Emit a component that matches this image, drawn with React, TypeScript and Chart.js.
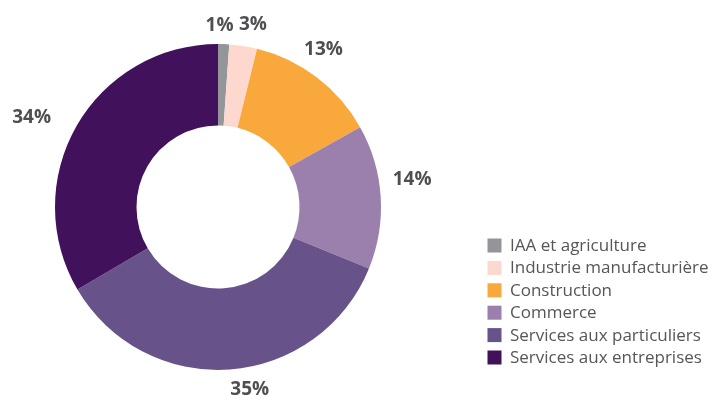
import React, { useEffect, useRef } from "react";
import { Chart, registerables } from "chart.js";

Chart.register(...registerables);

// ---- data ----
const categories = [
  "IAA et agriculture",
  "Industrie manufacturière",
  "Construction",
  "Commerce",
  "Services aux particuliers",
  "Services aux entreprises",
];
const shares = [1.1, 2.75, 13, 14.3, 35.4, 33.45];
const shareLabels = ["1%", "3%", "13%", "14%", "35%", "34%"];

// ---- style ----
const colors = ["#939598", "#fcd8cf", "#f9a93b", "#9b80ad", "#67538a", "#42115b"];
const LABEL_NUDGE: [number, number][] = [
  [-5, 8],
  [5.5, 5.5],
  [-9.5, -6],
  [4.5, -15],
  [18, -7],
  [-21.5, 5],
];
const LABEL_FONT = "bold 19px 'Open Sans'";
const LABEL_COLOR = "#4f4f51";
const LEGEND_FONT = "17px 'Open Sans'";
const LEGEND_COLOR = "#55565a";

const outerLabels = {
  id: "outerLabels",
  afterDatasetsDraw(chart: any) {
    const ctx = chart.ctx;
    const meta = chart.getDatasetMeta(0);
    ctx.save();
    ctx.font = LABEL_FONT;
    ctx.fillStyle = LABEL_COLOR;
    ctx.textAlign = "center";
    ctx.textBaseline = "middle";
    meta.data.forEach((arc: any, i: number) => {
      const p = arc.getProps(["x", "y", "startAngle", "endAngle", "outerRadius"], true);
      const mid = (p.startAngle + p.endAngle) / 2;
      const r = p.outerRadius + 27;
      const [dx, dy] = LABEL_NUDGE[i];
      ctx.fillText(shareLabels[i], p.x + r * Math.cos(mid) + dx, p.y + r * Math.sin(mid) + dy);
    });
    ctx.restore();
  },
};

const sideLegend = {
  id: "sideLegend",
  afterDraw(chart: any) {
    const ctx = chart.ctx;
    const labels = chart.data.labels as string[];
    const bg = chart.data.datasets[0].backgroundColor as string[];
    const boxX = 487.5;
    const box = 14;
    const textX = 510;
    const startY = 245.5;
    const step = 22.4;
    ctx.save();
    ctx.font = LEGEND_FONT;
    ctx.textAlign = "left";
    ctx.textBaseline = "alphabetic";
    labels.forEach((lab, i) => {
      const cy = startY + i * step;
      ctx.fillStyle = bg[i];
      ctx.fillRect(boxX, cy - box / 2, box, box);
      ctx.fillStyle = LEGEND_COLOR;
      ctx.fillText(lab, textX, cy + 5.5);
    });
    ctx.restore();
  },
};

export default function App() {
  const ref = useRef<HTMLCanvasElement | null>(null);
  useEffect(() => {
    if (!ref.current) return;
    const chart = new Chart(ref.current, {
      type: "doughnut",
      data: {
        labels: categories,
        datasets: [
          {
            data: shares,
            backgroundColor: colors,
            borderWidth: 0,
          },
        ],
      },
      options: {
        responsive: false,
        animation: false,
        cutout: "50%",
        layout: { padding: { top: 44, bottom: 36, left: 0, right: 287 } },
        plugins: {
          legend: { display: false },
          tooltip: { enabled: false },
        },
      },
      plugins: [outerLabels, sideLegend],
    });
    if ((document as any).fonts) {
      (document as any).fonts
        .load(LABEL_FONT)
        .then(() => (document as any).fonts.load(LEGEND_FONT))
        .then(() => chart.update())
        .catch(() => {});
    }
    return () => chart.destroy();
  }, []);
  return (
    <div style={{ position: "absolute", left: 0, top: 0, width: 723, height: 406, background: "#fff" }}>
      <canvas ref={ref} width={723} height={406} style={{ display: "block" }} />
    </div>
  );
}
